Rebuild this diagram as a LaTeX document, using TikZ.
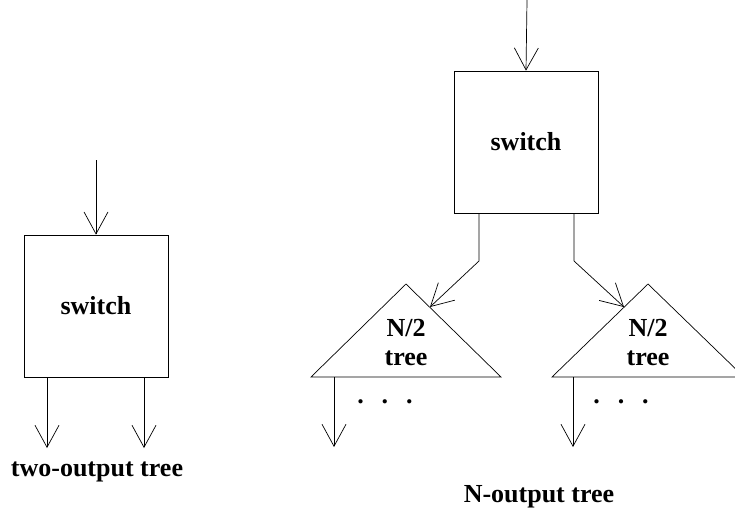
\documentclass[tikz,border=0pt]{standalone}
\usepackage{fontspec}
\setmainfont{Liberation Serif}
\usepackage{tikz}
\usetikzlibrary{arrows.meta}
\usetikzlibrary{positioning}

\tikzstyle{switchbox} = [draw=black, line width=0.7pt,
minimum width=144pt, minimum height=142pt, inner sep=0pt,
font=\bfseries\fontsize{26}{29}\selectfont]
\tikzstyle{treetext} = [font=\bfseries\fontsize{26}{29}\selectfont, align=center, inner sep=0pt]
\tikzstyle{arrow} = [line width=0.7pt,-{Straight Barb[length=22pt,width=24pt,line width=0.7pt]}]

\begin{document}
\begin{tikzpicture}[x=1pt,y=-1pt]
    \useasboundingbox (0,0) rectangle (735,514);
    \clip (0,0) rectangle (735,514);

    % draw two-output tree
    \node[switchbox] (sw1) at (96,306) {switch};
    \coordinate (in1) at (96,160);
    \draw[arrow] (in1) -- (sw1.north);
    \coordinate (out1a) at (47,448);
    \coordinate (out1b) at (144,448);
    \draw[arrow] (out1a |- sw1.south) -- (out1a);
    \draw[arrow] (out1b |- sw1.south) -- (out1b);
    \node[treetext] (cap1) at (97,472) {two-output tree};

    % draw N-output tree
    \node[switchbox] (sw2) at (526,142) {switch};
    \coordinate (in2) at (527,0);
    \draw[arrow] (in2) -- (sw2.north);

    % left half tree
    \coordinate (t1top) at (406,284);
    \coordinate (t1l) at (311,377);
    \coordinate (t1r) at (501,377);
    \draw[line width=0.7pt] (t1top) -- (t1r) -- (t1l) -- cycle;
    \node[treetext] (t1txt) at (406,343) {N/2\\tree};

    % right half tree
    \coordinate (t2top) at (648,284);
    \coordinate (t2l) at (552,377);
    \coordinate (t2r) at (744,377);
    \draw[line width=0.7pt] (t2top) -- (t2r) -- (t2l) -- cycle;
    \node[treetext] (t2txt) at (648,343) {N/2\\tree};

    % switch to half trees
    \coordinate (bend1) at (479,261);
    \coordinate (hit1) at (430,307);
    \draw[arrow] (bend1 |- sw2.south) -- (bend1) -- (hit1);
    \coordinate (bend2) at (574,261);
    \coordinate (hit2) at (624,307);
    \draw[arrow] (bend2 |- sw2.south) -- (bend2) -- (hit2);

    % outputs of half trees
    \coordinate (t1out) at (334,447);
    \coordinate (t2out) at (573,447);
    \draw[arrow] (t1out |- t1l) -- (t1out);
    \draw[arrow] (t2out |- t2l) -- (t2out);
    \node[treetext] (dots1) at (385,402) {.\hspace{18pt}.\hspace{18pt}.};
    \node[treetext] (dots2) at (621,402) {.\hspace{18pt}.\hspace{18pt}.};

    \node[treetext] (cap2) at (539,497) {N-output tree};
\end{tikzpicture}
\end{document}
